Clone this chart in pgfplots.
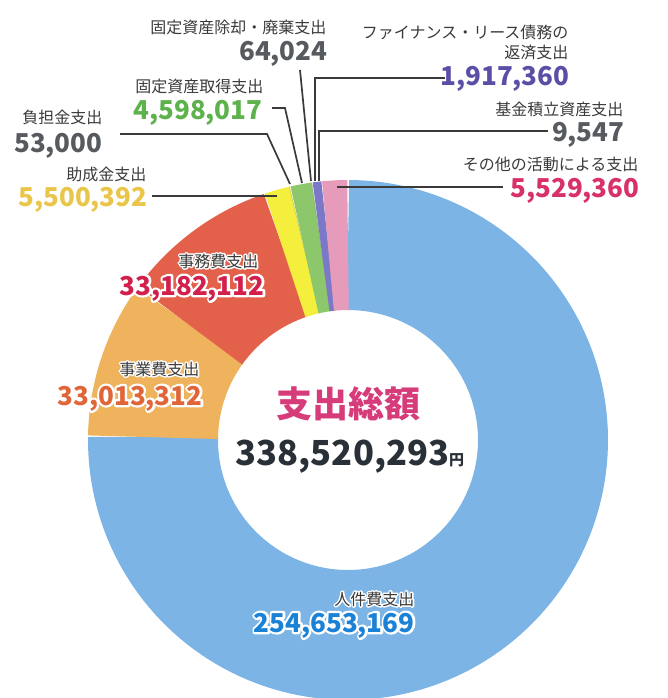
\documentclass[border=0pt]{standalone}
\usepackage{fontspec}
\setmainfont{Noto Sans CJK JP}
\usepackage{pgfplots}
\pgfplotsset{compat=1.18}

\definecolor{cblue}{HTML}{7DB4E6}
\definecolor{corange}{HTML}{EEB35C}
\definecolor{cred}{HTML}{E3614B}
\definecolor{cyellow}{HTML}{F4EE3C}
\definecolor{cgreen}{HTML}{8DC76C}
\definecolor{cpurple}{HTML}{7B78C8}
\definecolor{cpink}{HTML}{E79BBA}
\definecolor{cgrey}{HTML}{9A9A9A}
\definecolor{tlabel}{HTML}{3A3A3A}
\definecolor{tgray}{HTML}{575B5F}
\definecolor{tpurple}{HTML}{5A4FA6}
\definecolor{tgreen}{HTML}{5DB24C}
\definecolor{tyellow}{HTML}{E9C54A}
\definecolor{tpink}{HTML}{D8306A}
\definecolor{tred}{HTML}{D21F4C}
\definecolor{torange}{HTML}{E0663A}
\definecolor{tblue}{HTML}{1A82D6}
\definecolor{tcenter}{HTML}{D63C7A}
\definecolor{tdark}{HTML}{2A3038}
\definecolor{cline}{HTML}{3A3A3A}

% values (yen)
\def\vA{254653169} % 人件費支出
\def\vB{33013312}  % 事業費支出
\def\vC{33182112}  % 事務費支出
\def\vD{5500392}   % 助成金支出
\def\vE{53000}     % 負担金支出
\def\vF{4598017}   % 固定資産取得支出
\def\vG{64024}     % 固定資産除却・廃棄支出
\def\vH{1917360}   % ファイナンス・リース債務の返済支出
\def\vI{9547}      % 基金積立資産支出
\def\vJ{5529360}   % その他の活動による支出

\pgfkeys{/pgf/fpu=true,/pgf/fpu/output format=fixed}
\pgfmathsetmacro\tot{\vA+\vB+\vC+\vD+\vE+\vF+\vG+\vH+\vI+\vJ}
\pgfmathsetmacro\aA{(\vA)/\tot*360}
\pgfmathsetmacro\aB{(\vA+\vB)/\tot*360}
\pgfmathsetmacro\aC{(\vA+\vB+\vC)/\tot*360}
\pgfmathsetmacro\aD{(\vA+\vB+\vC+\vD)/\tot*360}
\pgfmathsetmacro\aE{(\vA+\vB+\vC+\vD+\vE)/\tot*360}
\pgfmathsetmacro\aF{(\vA+\vB+\vC+\vD+\vE+\vF)/\tot*360}
\pgfmathsetmacro\aG{(\vA+\vB+\vC+\vD+\vE+\vF+\vG)/\tot*360}
\pgfmathsetmacro\aH{(\vA+\vB+\vC+\vD+\vE+\vF+\vG+\vH)/\tot*360}
\pgfmathsetmacro\aI{(\vA+\vB+\vC+\vD+\vE+\vF+\vG+\vH+\vI)/\tot*360}
\pgfkeys{/pgf/fpu=false}

\newcommand\lab[1]{{\fontsize{16}{18}\selectfont #1}}
\newcommand\num[1]{{\fontsize{26}{28}\selectfont\bfseries #1}}
% white halo: a stroked white copy under the text
\newcommand\halo[2]{\leavevmode\rlap{\color{white}\special{pdf:literal direct q 2 Tr #1 w 1 j 1 1 1 RG}#2\special{pdf:literal direct Q}}#2}

\begin{document}
\begin{tikzpicture}
\begin{axis}[
  hide axis, scale only axis,
  width=668pt, height=698pt,
  xmin=0, xmax=668, ymin=0, ymax=698,
  y dir=reverse,
  clip mode=individual,
  ring/.style={line width=130pt, line cap=butt, line join=miter, variable=\t, no markers},
  leader/.style={draw=cline, line width=1.7pt, no markers},
]
% donut slices (angle clockwise from top), centre (348,440), mid radius 195
\addplot[ring, draw=cblue,   domain=0:\aA+0.1,  samples=140] ({348+195*sin(t)},{440-195*cos(t)});
\addplot[ring, draw=corange, domain=\aA:\aB+0.1, samples=24] ({348+195*sin(t)},{440-195*cos(t)});
\addplot[ring, draw=cred,    domain=\aB:\aC+0.1, samples=24] ({348+195*sin(t)},{440-195*cos(t)});
\addplot[ring, draw=cyellow, domain=\aC:\aD+0.1, samples=6] ({348+195*sin(t)},{440-195*cos(t)});
\addplot[ring, draw=cgrey,   domain=\aD:\aE, samples=2] ({348+195*sin(t)},{440-195*cos(t)});
\addplot[ring, draw=cgreen,  domain=\aE:\aF+0.1, samples=6] ({348+195*sin(t)},{440-195*cos(t)});
\addplot[ring, draw=cgrey,   domain=\aF:\aG, samples=2] ({348+195*sin(t)},{440-195*cos(t)});
\addplot[ring, draw=cpurple, domain=\aG:\aH+0.1, samples=4] ({348+195*sin(t)},{440-195*cos(t)});
\addplot[ring, draw=cgrey,   domain=\aH:\aI, samples=2] ({348+195*sin(t)},{440-195*cos(t)});
\addplot[ring, draw=cpink,   domain=\aI:360, samples=6] ({348+195*sin(t)},{440-195*cos(t)});

% leader lines
\addplot[leader] coordinates {(272,108) (285,108) (302,183)};
\addplot[leader] coordinates {(120,134) (267,134) (290,184)};
\addplot[leader] coordinates {(152,196) (277,196)};
\addplot[leader] coordinates {(300,70) (311,181)};
\addplot[leader] coordinates {(445,78) (315,78) (315,181)};
\addplot[leader] coordinates {(548,131) (319,131) (319,181)};
\addplot[leader] coordinates {(337,187) (503,187)};

% outside labels
\node[anchor=base east, text=tlabel] at (axis cs:330,34) {\lab{固定資産除却・廃棄支出}};
\node[anchor=base east, text=tgray]  at (axis cs:331,61) {\num{64,024}};
\node[anchor=base east, text=tlabel] at (axis cs:572,39) {\lab{ファイナンス・リース債務の}};
\node[anchor=base east, text=tlabel] at (axis cs:572,59) {\lab{返済支出}};
\node[anchor=base east, text=tpurple] at (axis cs:573,86) {\num{1,917,360}};
\node[anchor=base east, text=tlabel] at (axis cs:267,93) {\lab{固定資産取得支出}};
\node[anchor=base east, text=tgreen] at (axis cs:266,120) {\num{4,598,017}};
\node[anchor=base east, text=tlabel] at (axis cs:106,124) {\lab{負担金支出}};
\node[anchor=base east, text=tgray]  at (axis cs:106,152) {\num{53,000}};
\node[anchor=base east, text=tlabel] at (axis cs:627,116) {\lab{基金積立資産支出}};
\node[anchor=base east, text=tgray]  at (axis cs:628,142) {\num{9,547}};
\node[anchor=base east, text=tlabel] at (axis cs:150,180) {\lab{助成金支出}};
\node[anchor=base east, text=tyellow] at (axis cs:151,206) {\num{5,500,392}};
\node[anchor=base east, text=tlabel] at (axis cs:642,170) {\lab{その他の活動による支出}};
\node[anchor=base east, text=tpink]  at (axis cs:643,197) {\num{5,529,360}};

% labels on slices, with white halo
\node[anchor=base east, text=tlabel] at (axis cs:262,267) {\lab{\halo{3}{事務費支出}}};
\node[anchor=base east, text=tred]   at (axis cs:268,295) {\num{\halo{4.5}{33,182,112}}};
\node[anchor=base east, text=tlabel] at (axis cs:203,375) {\lab{\halo{3}{事業費支出}}};
\node[anchor=base east, text=torange] at (axis cs:206,405) {\num{\halo{4.5}{33,013,312}}};
\node[anchor=base east, text=tlabel] at (axis cs:418,605) {\lab{\halo{3}{人件費支出}}};
\node[anchor=base east, text=tblue]  at (axis cs:418,632) {\num{\halo{4.5}{254,653,169}}};

% centre
\node[anchor=base, text=tcenter] at (axis cs:348,417) {\fontsize{36}{38}\selectfont\bfseries 支出総額};
\node[anchor=base, text=tdark] at (axis cs:350,465) {\fontsize{34.5}{38}\selectfont\bfseries 338,520,293\fontsize{15}{18}\selectfont 円};
\end{axis}
\pgfresetboundingbox
\useasboundingbox (current axis.south west) rectangle (current axis.north east);
\end{tikzpicture}
\end{document}
